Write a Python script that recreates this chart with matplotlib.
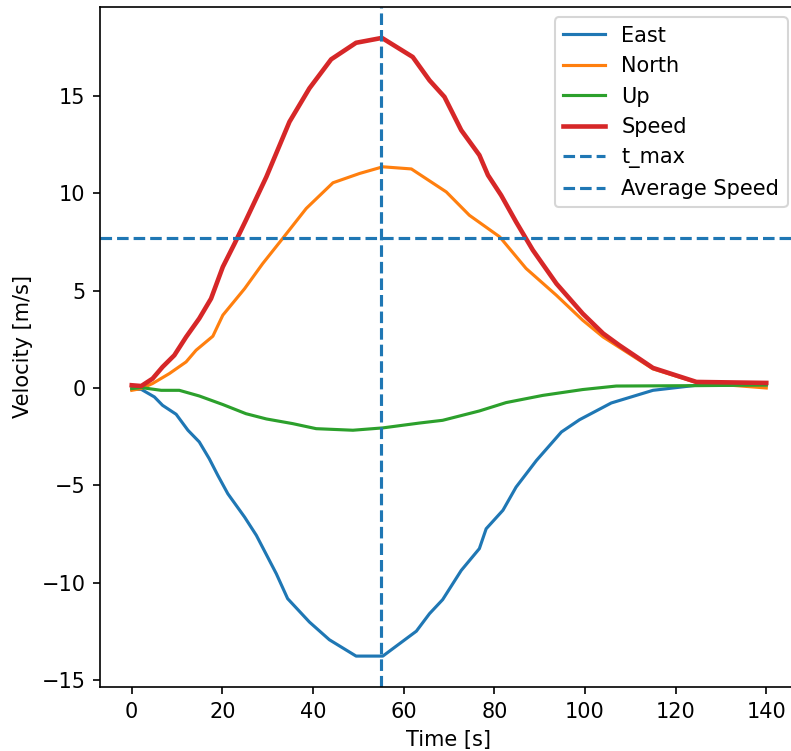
import matplotlib
matplotlib.use("Agg")
import matplotlib.pyplot as plt

# East velocity
t_east = [0, 2.1, 5.0, 6.8, 9.8, 12.4, 14.9, 17.1, 19.0, 21.2, 24.9, 27.5, 31.9, 34.4,
          39.2, 43.6, 49.5, 55.4, 62.8, 65.7, 68.6, 72.7, 76.7, 78.2, 81.9, 84.8, 89.3,
          94.8, 98.8, 105.8, 115.0, 124.6, 140.0]
v_east = [-0.07, -0.07, -0.46, -0.89, -1.35, -2.17, -2.77, -3.63, -4.49, -5.43, -6.63,
          -7.57, -9.54, -10.82, -12.02, -12.93, -13.77, -13.77, -12.49, -11.59, -10.87,
          -9.37, -8.25, -7.23, -6.28, -5.09, -3.72, -2.26, -1.63, -0.77, -0.12, 0.14, 0.15]

# North velocity
t_north = [0, 2.1, 4.6, 8.3, 12.0, 14.2, 17.9, 20.1, 24.9, 28.9, 33.3, 38.5, 44.4, 50.3,
           55.4, 61.7, 69.4, 74.5, 81.2, 87.0, 93.7, 99.5, 104.0, 115.0, 124.6, 140.0]
v_north = [-0.12, -0.03, 0.23, 0.74, 1.34, 1.94, 2.66, 3.74, 5.1, 6.39, 7.68, 9.22, 10.54,
           11.02, 11.36, 11.25, 10.07, 8.87, 7.76, 6.14, 4.76, 3.48, 2.62, 0.98, 0.28, 0.0]

# Up velocity
t_up = [0, 2.1, 6.5, 10.5, 14.9, 20.1, 25.2, 29.7, 35.5, 40.7, 48.8, 55.4, 63.5, 68.6,
        76.7, 82.6, 90.7, 99.5, 106.9, 124.6, 140.0]
v_up = [-0.03, 0.02, -0.12, -0.12, -0.41, -0.85, -1.32, -1.59, -1.83, -2.09, -2.17, -2.05,
        -1.8, -1.66, -1.18, -0.75, -0.38, -0.08, 0.1, 0.12, 0.15]

# Speed
t_speed = [0, 2.1, 4.6, 6.8, 9.4, 12.0, 14.9, 17.5, 20.1, 22.7, 25.2, 29.7, 34.8, 39.2,
           44.0, 49.5, 55.2, 62.0, 65.7, 69.0, 72.7, 76.7, 78.6, 81.5, 84.8, 88.5, 93.7,
           99.5, 104.0, 107.6, 115.0, 124.6, 140.0]
v_speed = [0.14, 0.1, 0.48, 1.08, 1.68, 2.62, 3.57, 4.59, 6.22, 7.42, 8.62, 10.84, 13.67,
           15.39, 16.88, 17.73, 17.98, 17.0, 15.8, 14.95, 13.24, 11.96, 10.93, 9.9, 8.53,
           7.08, 5.36, 3.82, 2.8, 2.19, 1.03, 0.31, 0.26]

t_max = 55.1
avg_speed = 7.71

fig = plt.figure(figsize=(791 / 150, 751 / 150), dpi=150)
ax = fig.add_axes([100 / 791, 64 / 751, 698 / 791, 680 / 751])

ax.plot(t_east, v_east, label="East")
ax.plot(t_north, v_north, label="North")
ax.plot(t_up, v_up, label="Up")
ax.plot(t_speed, v_speed, label="Speed", linewidth=2.2)
ax.axvline(t_max, linestyle="--", color="C0", label="t_max")
ax.axhline(avg_speed, linestyle="--", color="C0", label="Average Speed")

ax.set_xlabel("Time [s]")
ax.set_ylabel("Velocity [m/s]")
ax.legend(loc="upper right")

fig.savefig("out.png", dpi=150)
